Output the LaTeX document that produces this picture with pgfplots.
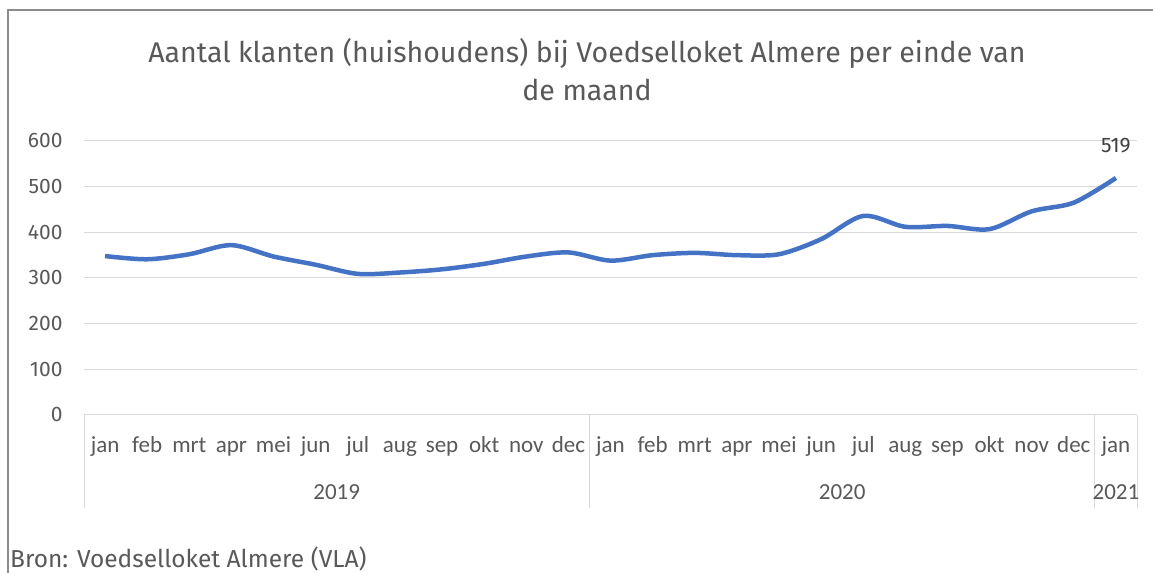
\documentclass[border=0pt]{standalone}
\usepackage{fontspec}
\setmainfont{Fira Sans}
\newfontfamily\calib{Carlito}
\usepackage{pgfplots}
\pgfplotsset{compat=1.18}
\definecolor{txtgray}{HTML}{595959}
\definecolor{lblgray}{HTML}{404040}
\definecolor{gridgray}{HTML}{D9D9D9}
\definecolor{framegray}{HTML}{8C8C8C}
\definecolor{lineblue}{HTML}{4472C4}
\begin{document}
\begin{tikzpicture}[x=1bp,y=1bp]
\useasboundingbox (0,0) rectangle (1153,573);
\fill[white] (0,0) rectangle (1153,573);
\draw[framegray, line width=1.5bp] (8,0) -- (8,563) -- (1153,563);
\node[anchor=base, text=txtgray, font=\fontsize{28.5bp}{32bp}\selectfont] at (587,510) {Aantal klanten (huishoudens) bij Voedselloket Almere per einde van};
\node[anchor=base, text=txtgray, font=\fontsize{28.5bp}{32bp}\selectfont] at (587,472) {de maand};
\node[anchor=base west, text=txtgray, inner sep=0pt, font=\fontsize{24.5bp}{28bp}\selectfont] at (10,5) {Bron: Voedselloket Almere (VLA)};
\begin{axis}[
  at={(84bp,158bp)}, anchor=south west,
  scale only axis, width=1053bp, height=274bp,
  xmin=-0.5, xmax=24.5, ymin=0, ymax=600,
  ytick={0,100,...,600},
  xtick={0,...,24},
  xticklabels={jan,feb,mrt,apr,mei,jun,jul,aug,sep,okt,nov,dec,jan,feb,mrt,apr,mei,jun,jul,aug,sep,okt,nov,dec,jan},
  ymajorgrids, grid style={gridgray, line width=1bp},
  major tick length=0pt,
  axis x line*=bottom, axis y line*=left,
  y axis line style={draw=none},
  x axis line style={gridgray, line width=1bp},
  /pgf/number format/assume math mode=true,
  yticklabel style={text=txtgray, font=\fontsize{21bp}{25bp}\selectfont, anchor=east, xshift=-18bp},
  xticklabel style={text=txtgray, font=\calib\fontsize{23bp}{27bp}\selectfont, anchor=base, yshift=-38bp},
  clip=false,
]
\addplot[lineblue, line width=4.5bp, smooth, tension=0.5] coordinates {
(0,348) (1,341) (2,352) (3,372) (4,347) (5,329) (6,309) (7,312) (8,319) (9,331) (10,347) (11,356)
(12,338) (13,350) (14,355) (15,350) (16,352) (17,385) (18,436) (19,412) (20,414) (21,407) (22,446) (23,465) (24,519)
};
\node[anchor=base, text=lblgray, font=\fontsize{21bp}{25bp}\selectfont] at (axis cs:24,519) [yshift=25bp] {519};
\draw[gridgray, line width=1bp] (axis cs:-0.5,0) -- ++(0pt,-93bp);
\draw[gridgray, line width=1bp] (axis cs:11.5,0) -- ++(0pt,-93bp);
\draw[gridgray, line width=1bp] (axis cs:23.5,0) -- ++(0pt,-93bp);
\draw[gridgray, line width=1bp] (axis cs:24.5,0) -- ++(0pt,-93bp);
\node[anchor=base, text=txtgray, font=\calib\fontsize{23bp}{27bp}\selectfont] at (axis cs:5.5,0) [yshift=-85bp] {2019};
\node[anchor=base, text=txtgray, font=\calib\fontsize{23bp}{27bp}\selectfont] at (axis cs:17.5,0) [yshift=-85bp] {2020};
\node[anchor=base, text=txtgray, font=\calib\fontsize{23bp}{27bp}\selectfont] at (axis cs:24,0) [yshift=-85bp] {2021};
\end{axis}
\end{tikzpicture}
\end{document}
